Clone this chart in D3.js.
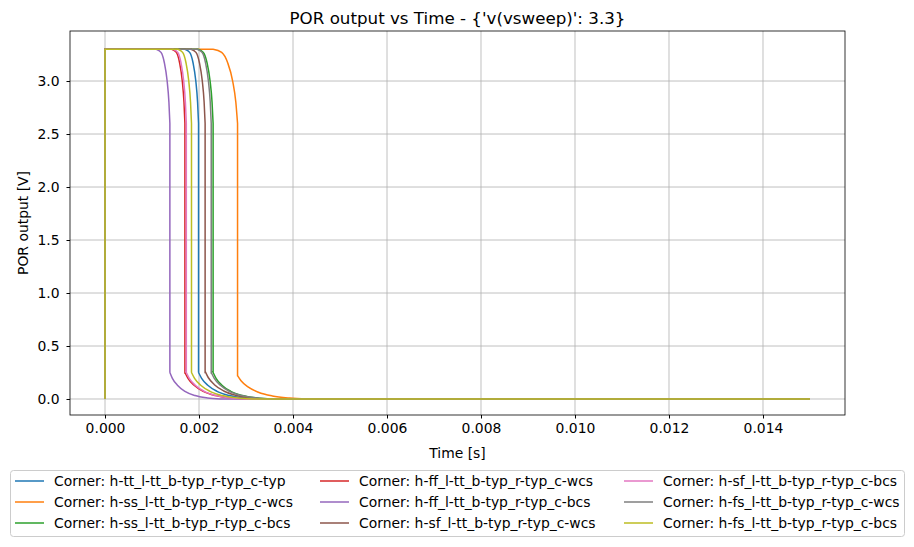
<!DOCTYPE html>
<html><head><meta charset="utf-8">
<script src="https://cdn.jsdelivr.net/npm/d3@7"></script>
<style>body{margin:0;background:#fff}text{font-family:"DejaVu Sans",sans-serif}</style>
</head><body><svg id="c" width="914" height="547"></svg>
<script>
const seriesNames = ["Corner: h-tt_l-tt_b-typ_r-typ_c-typ","Corner: h-ss_l-tt_b-typ_r-typ_c-wcs","Corner: h-ss_l-tt_b-typ_r-typ_c-bcs","Corner: h-ff_l-tt_b-typ_r-typ_c-wcs","Corner: h-ff_l-tt_b-typ_r-typ_c-bcs","Corner: h-sf_l-tt_b-typ_r-typ_c-wcs","Corner: h-sf_l-tt_b-typ_r-typ_c-bcs","Corner: h-fs_l-tt_b-typ_r-typ_c-wcs","Corner: h-fs_l-tt_b-typ_r-typ_c-bcs"];
const colors = ["#1f77b4","#ff7f0e","#2ca02c","#d62728","#9467bd","#8c564b","#e377c2","#7f7f7f","#bcbd22"];
// drop time (vertical edge), bend start, level at bottom of drop, settle end
const dropTime  = [0.00199,0.00282,0.00230,0.00170,0.00138,0.00213,0.00173,0.00226,0.00184];
const bendStart = [0.00170,0.00230,0.00198,0.00142,0.00109,0.00183,0.00145,0.00196,0.00155];
const dropLevel = [0.25,0.22,0.25,0.25,0.25,0.26,0.25,0.25,0.25];
const settleEnd = [0.00330,0.00430,0.00355,0.00300,0.00245,0.00345,0.00300,0.00355,0.00315];
const endTime = 0.015, vHigh = 3.3;
// knee shape (fraction of bend, value) and decay shape (fraction of settle, fraction of level)
const kneeShape = [[0,3.3],[0.35,3.27],[0.6,3.17],[0.8,3.0],[0.93,2.8],[1,2.6]];
const decayShape = [[0,1],[0.05,0.78],[0.15,0.52],[0.3,0.29],[0.5,0.13],[0.75,0.04],[1,0]];
const xTicks = [0,0.002,0.004,0.006,0.008,0.010,0.012,0.014];
const yTicks = [0,0.5,1,1.5,2,2.5,3];

const svg = d3.select("#c");
const L=70,R=845,T=31,B=415;
const FS=13.9;
const x = d3.scaleLinear().domain([-0.000745,0.015745]).range([L,R]);
const y = d3.scaleLinear().domain([-0.151,3.472]).range([B,T]);
const g = svg.append("g");
g.selectAll(".gx").data(xTicks).join("line").attr("x1",d=>x(d)).attr("x2",d=>x(d)).attr("y1",T).attr("y2",B).attr("stroke","#b0b0b0").attr("stroke-width",0.8);
g.selectAll(".gy").data(yTicks).join("line").attr("y1",d=>y(d)).attr("y2",d=>y(d)).attr("x1",L).attr("x2",R).attr("stroke","#b0b0b0").attr("stroke-width",0.8);
svg.append("clipPath").attr("id","cp").append("rect").attr("x",L).attr("y",T).attr("width",R-L).attr("height",B-T);
const lg = svg.append("g").attr("clip-path","url(#cp)");
const lm = d3.line().x(d=>x(d[0])).y(d=>y(d[1])).curve(d3.curveMonotoneX);
seriesNames.forEach((n,i)=>{
  const w = dropTime[i]-bendStart[i];
  const kp = kneeShape.map(([u,v])=>[bendStart[i]+u*w,v]);
  const dur = settleEnd[i]-dropTime[i];
  const dp = decayShape.map(([u,v])=>[dropTime[i]+u*dur,dropLevel[i]*v]);
  let p = "M"+x(0)+","+y(0)+"L"+x(0)+","+y(vHigh)+"L"+x(bendStart[i])+","+y(vHigh);
  p += lm(kp).replace(/^M/,"L");
  p += "L"+x(dropTime[i])+","+y(dropLevel[i]);
  p += lm(dp).replace(/^M/,"L");
  p += "L"+x(endTime)+","+y(0);
  lg.append("path").attr("d",p).attr("fill","none").attr("stroke",colors[i]).attr("stroke-width",1.5);
});
svg.append("rect").attr("x",L).attr("y",T).attr("width",R-L).attr("height",B-T).attr("fill","none").attr("stroke","#000").attr("stroke-width",0.8);
const xa = svg.append("g").attr("transform",`translate(0,${B})`).call(d3.axisBottom(x).tickValues(xTicks).tickFormat(d3.format(".3f")).tickSize(3.5).tickPadding(5).tickSizeOuter(0));
const ya = svg.append("g").attr("transform",`translate(${L},0)`).call(d3.axisLeft(y).tickValues(yTicks).tickFormat(d3.format(".1f")).tickSize(3.5).tickPadding(7).tickSizeOuter(0));
[xa,ya].forEach(a=>{a.select(".domain").remove();a.selectAll("text").attr("font-size",FS).attr("fill","#000").attr("font-family","DejaVu Sans");a.selectAll("line").attr("stroke","#000");});
svg.append("text").attr("x",(L+R)/2).attr("y",24).attr("text-anchor","middle").attr("font-size",16.7).text("POR output vs Time - {'v(vsweep)': 3.3}");
svg.append("text").attr("x",(L+R)/2).attr("y",458).attr("text-anchor","middle").attr("font-size",FS).text("Time [s]");
svg.append("text").attr("transform",`translate(28,${(T+B)/2}) rotate(-90)`).attr("text-anchor","middle").attr("font-size",FS).text("POR output [V]");
// legend
svg.append("rect").attr("x",10.5).attr("y",470.5).attr("width",894).attr("height",66).attr("rx",3).attr("fill","#fff").attr("stroke","#ccc");
const colX=[15,320,624], rowY=[481,502,523];
seriesNames.forEach((n,i)=>{
  const cx=colX[Math.floor(i/3)], cy=rowY[i%3];
  svg.append("line").attr("x1",cx).attr("x2",cx+29).attr("y1",cy).attr("y2",cy).attr("stroke",colors[i]).attr("stroke-width",1.5);
  svg.append("text").attr("x",cx+39).attr("y",cy+5).attr("font-size",FS).text(n);
});
</script></body></html>
